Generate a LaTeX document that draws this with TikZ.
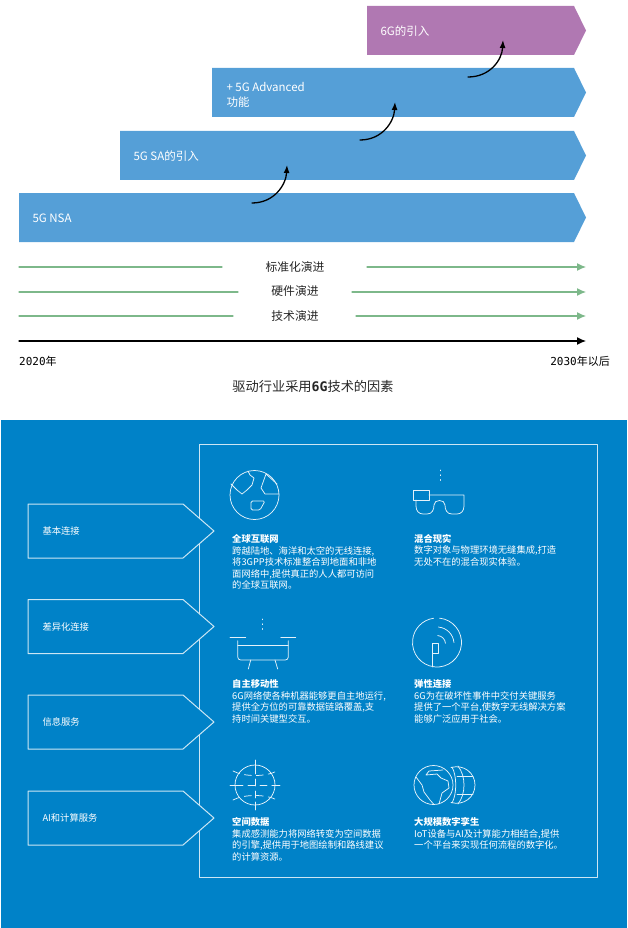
\documentclass[tikz,border=0pt]{standalone}
\usepackage{fontspec}
\setmainfont{Noto Sans CJK SC}
\newfontfamily\digitfont{DejaVu Sans Mono}
\usetikzlibrary{arrows.meta}
\definecolor{barblue}{HTML}{559FD7}
\definecolor{barpurple}{HTML}{B078B2}
\definecolor{evogreen}{HTML}{7DB88A}
\definecolor{panelblue}{HTML}{0082C8}
\tikzset{
  bartext/.style={anchor=west,align=left,text=white,font=\fontsize{11.5}{15}\selectfont},
  evotext/.style={font=\fontsize{11.8}{14}\selectfont,text=black!85},
  evoline/.style={draw=evogreen,line width=1.2pt},
  steparrow/.style={line width=1.3pt,-{Latex[length=8pt,width=6pt]}},
  tagtext/.style={anchor=west,text=white,font=\fontsize{9.3}{12}\selectfont},
  infotext/.style={anchor=north west,align=left,text=white,inner sep=0pt,font=\fontsize{9.3}{11.5}\selectfont},
  iconline/.style={draw=white!90!panelblue,line width=0.75pt},
  icondash/.style={iconline,dash pattern=on 7pt off 5pt},
  icondots/.style={iconline,dash pattern=on 0.8pt off 4pt}
}
\begin{document}
\begin{tikzpicture}[x=1pt,y=-1pt,line cap=round,line join=round]
  \useasboundingbox (0,0) rectangle (627,928);

  % stepped bars
  \foreach \barx/\bary/\barcol in {19/193/barblue,120/131/barblue,212/68/barblue,367/6/barpurple}
    \fill[\barcol] (\barx,\bary) -- (574,\bary) -- (586,\bary+24.5) -- (574,\bary+49) -- (\barx,\bary+49) -- cycle;
  \node[bartext] (nsa) at (29,218) {5G NSA};
  \node[bartext] (sa) at (130,156) {5G SA的引入};
  \node[bartext] (adv) at (223,94.5) {+ 5G Advanced\\功能};
  \node[bartext] (six) at (377,31) {6G的引入};

  \coordinate (s1) at (252,203);
  \coordinate (e1) at (287,165);
  \coordinate (s2) at (360,140);
  \coordinate (e2) at (395,102);
  \coordinate (s3) at (468,77);
  \coordinate (e3) at (503,40);
  \foreach \i in {1,2,3}
    \draw[steparrow] (s\i) .. controls +(22,0) and +(-1,20) .. (e\i);

  % evolution lines
  \node[evotext] (std) at (295,267) {标准化演进};
  \node[evotext] (hw) at (295,291) {硬件演进};
  \node[evotext] (tech) at (295,316) {技术演进};
  \coordinate (a1) at (19,267);
  \coordinate (b1) at (222,267);
  \coordinate (c1) at (367,267);
  \coordinate (d1) at (586,267);
  \coordinate (a2) at (19,292);
  \coordinate (b2) at (238,292);
  \coordinate (c2) at (352,292);
  \coordinate (d2) at (586,292);
  \coordinate (a3) at (19,316);
  \coordinate (b3) at (233,316);
  \coordinate (c3) at (356,316);
  \coordinate (d3) at (586,316);
  \foreach \i in {1,2,3} {
    \draw[evoline] (a\i) -- (b\i);
    \draw[evoline,-{Latex[length=9pt,width=8pt]}] (c\i) -- (d\i);
  }
  \coordinate (t0) at (19,341);
  \coordinate (t1) at (586,341);
  \draw[line width=1.2pt,-{Latex[length=9pt,width=8pt]}] (t0) -- (t1);
  \node[anchor=west,inner sep=0pt,font=\fontsize{11}{13}\selectfont] (y2020) at (19,361) {{\digitfont 2020}年};
  \node[anchor=east,inner sep=0pt,font=\fontsize{11}{13}\selectfont] (y2030) at (610,361) {{\digitfont 2030}年以后};
  \node[font=\fontsize{13.2}{15}\selectfont,text=black!85] (title) at (313,386.5) {驱动行业采用{\digitfont\bfseries 6G}技术的因素};

  % blue panel
  \fill[panelblue] (1,420) rectangle (627,928);
  \draw[white!80!panelblue,line width=1pt] (199,444) rectangle (597,877);
  \foreach \tagy in {504,599.5,695,791}
    \draw[fill=panelblue,draw=white!80!panelblue,line width=1pt] (28,\tagy) -- (183,\tagy) -- (214,\tagy+27) -- (183,\tagy+54) -- (28,\tagy+54) -- cycle;
  \node[tagtext] (basic) at (39,531) {基本连接};
  \node[tagtext] (diff) at (39,626.5) {差异化连接};
  \node[tagtext] (info) at (39,722) {信息服务};
  \node[tagtext] (aic) at (39,818) {AI和计算服务};

  % info blocks
  \node[infotext] (global) at (232,534.5) {\textbf{全球互联网}\\跨越陆地、海洋和太空的无线连接,\\将3GPP技术标准整合到地面和非地\\面网络中,提供真正的人人都可访问\\的全球互联网。};
  \node[infotext] (mixed) at (414,534) {\textbf{混合现实}\\数字对象与物理环境无缝集成,打造\\无处不在的混合现实体验。};
  \node[infotext] (auto) at (232,679.5) {\textbf{自主移动性}\\6G网络使各种机器能够更自主地运行,\\提供全方位的可靠数据链路覆盖,支\\持时间关键型交互。};
  \node[infotext] (resil) at (414,679.5) {\textbf{弹性连接}\\6G为在破坏性事件中交付关键服务\\提供了一个平台,使数字无线解决方案\\能够广泛应用于社会。};
  \node[infotext] (space) at (232,817.5) {\textbf{空间数据}\\集成感测能力将网络转变为空间数据\\的引擎,提供用于地图绘制和路线建议\\的计算资源。};
  \node[infotext] (twin) at (414,817.5) {\textbf{大规模数字孪生}\\IoT设备与AI及计算能力相结合,提供\\一个平台来实现任何流程的数字化。};

  % globe
  \draw[iconline] (254.5,495) circle (24.5);
  \draw[iconline] (248,471) -- (250,475) -- (254,478) -- (252,485) -- (247,490) -- (242,494) -- (237,490) -- (231,484);
  \draw[iconline] (277,484) -- (266,474) -- (261,488) -- (265,494) -- (279,494);
  \draw[iconline,rounded corners=1.5pt] (251,501) -- (265,501) -- (260,510) -- (251,510) -- cycle;

  % glasses
  \draw[icondots] (440.7,470) -- (440.7,484);
  \draw[iconline] (413.5,490) rectangle (429,500);
  \draw[iconline] (429,495) -- (464,495) -- (464,506)
    .. controls (464,511) and (461,514) .. (457,514) -- (452,514)
    .. controls (447,514) and (445,510) .. (445,505)
    .. controls (445,499) and (434,499) .. (434,505)
    .. controls (434,510) and (432,514) .. (427,514) -- (423,514)
    .. controls (419,514) and (416,511) .. (416,506) -- (416,500);

  % drone
  \draw[icondots] (262.7,619) -- (262.7,633);
  \draw[iconline] (230,637.3) -- (245.7,637.3);
  \draw[iconline] (280.7,637.3) -- (295.7,637.3);
  \draw[iconline,rounded corners=3pt] (237.7,640.7) -- (237.7,660) -- (288.3,660) -- (288.3,640.7);
  \draw[iconline] (237.7,645) -- (288.3,645);
  \draw[iconline] (250.7,660) -- (248.3,669);
  \draw[iconline] (275,660) -- (277.7,669);

  % resilient link
  \draw[iconline] (437,642.5) ++(-84:24.5) arc[start angle=-84,end angle=262,radius=24.5];
  \draw[iconline] (437,644) ++(-85:17) arc[start angle=-85,end angle=-5,radius=17];
  \draw[iconline] (437,644) ++(-85:8.5) arc[start angle=-85,end angle=-5,radius=8.5];
  \draw[iconline] (432,643) rectangle (438,653.5);
  \draw[iconline] (432.5,653.5) -- (432.5,667);

  % sensing globe
  \draw[iconline] (255,785) circle (20);
  \draw[icondash] (236,785) -- (274,785);
  \draw[icondash] (255,767) -- (255,803);
  \draw[iconline] (230,785) -- (238,785) (272,785) -- (280,785);
  \draw[iconline] (255,760) -- (255,768) (255,802) -- (255,810);
  \draw[icondash] (233,771) .. controls (244,777) and (266,777) .. (277,771);
  \draw[icondash] (233,800) .. controls (244,794) and (266,794) .. (277,800);

  % twin globes
  \draw[iconline] (433.5,785) circle (19.5);
  \draw[iconline] (416,777) -- (422,785) -- (424,792) -- (430,800) -- (434,804.5);
  \draw[iconline] (439,804) -- (442,793) -- (449,788) -- (448,781) -- (441,778) -- (437,774) -- (426,775) -- (429,771) -- (443,770);
  \draw[iconline] (451,767.5) .. controls (464,764) and (475,773) .. (475,785) .. controls (475,797) and (464,806) .. (451,802.5);
  \draw[iconline] (452,767) .. controls (457,776) and (457,794) .. (452,803);
  \draw[iconline] (458,766) .. controls (466,776) and (466,794) .. (458,804);
  \draw[iconline] (457,776.5) -- (473,776.5);
  \draw[iconline] (457,794.5) -- (473,794.5);
\end{tikzpicture}
\end{document}
